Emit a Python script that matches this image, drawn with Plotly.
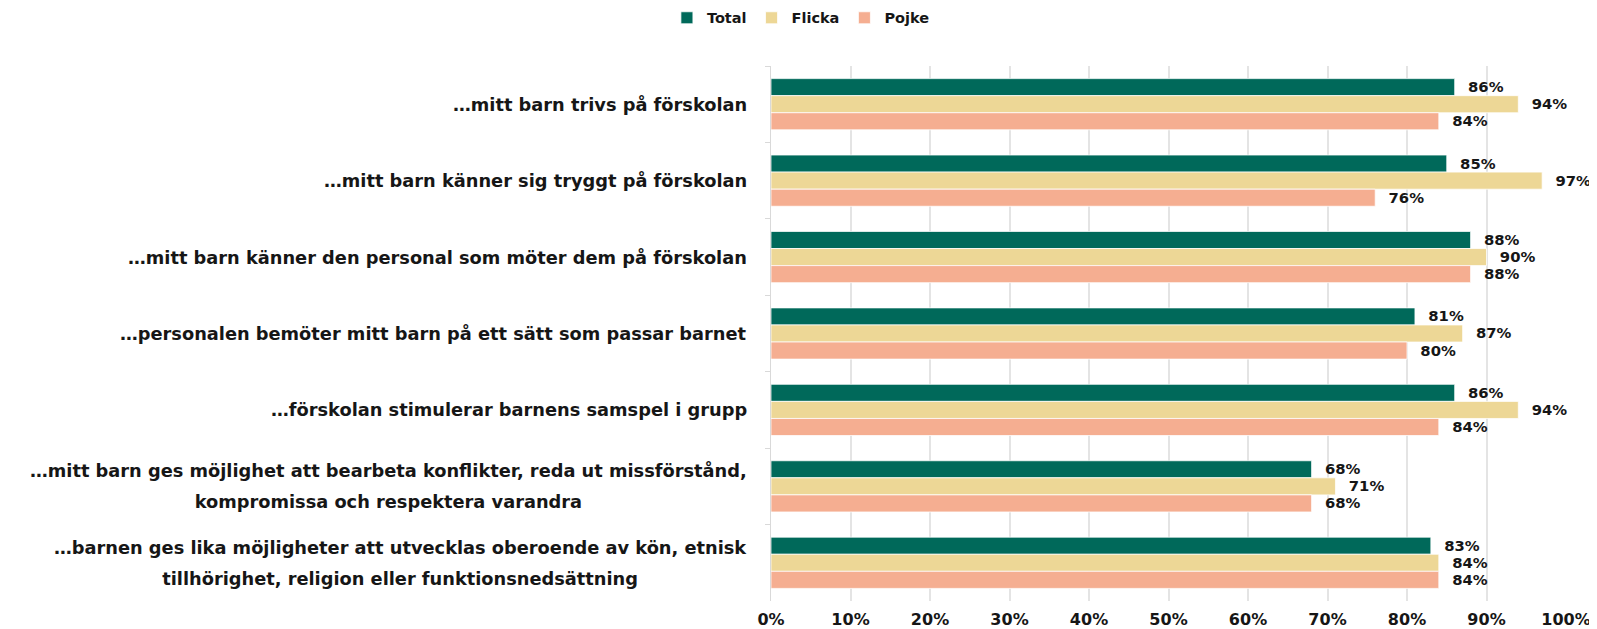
import plotly.graph_objects as go

categories = [
    "…mitt barn trivs på förskolan",
    "…mitt barn känner sig tryggt på förskolan",
    "…mitt barn känner den personal som möter dem på förskolan",
    "…personalen bemöter mitt barn på ett sätt som passar barnet",
    "…förskolan stimulerar barnens samspel i grupp",
    "…mitt barn ges möjlighet att bearbeta konflikter, reda ut missförstånd,<br>kompromissa och respektera varandra",
    "…barnen ges lika möjligheter att utvecklas oberoende av kön, etnisk<br>tillhörighet, religion eller funktionsnedsättning",
]
total = [0.86, 0.85, 0.88, 0.81, 0.86, 0.68, 0.83]
flicka = [0.94, 0.97, 0.90, 0.87, 0.94, 0.71, 0.84]
pojke = [0.84, 0.76, 0.88, 0.80, 0.84, 0.68, 0.84]
series = [("Total", total, "#00695A"), ("Flicka", flicka, "#EDD796"), ("Pojke", pojke, "#F5AE91")]

FONT = "DejaVu Sans"
TXT = "#161616"
fig = go.Figure()
for name, vals, color in series:
    fig.add_trace(go.Bar(
        y=categories, x=vals, name=name, orientation="h",
        marker=dict(color=color, line=dict(color="white", width=0.75)),
        text=[f"\u00a0\u00a0{round(v*100)}%" for v in vals], textposition="outside",
        textfont=dict(family=FONT, size=16.5, color=TXT, weight="bold"),
        cliponaxis=False,
    ))

for c in categories:
    fig.add_annotation(
        x=0, xref="paper", y=c, yref="y", xanchor="right", xshift=-22,
        text=f"<span style='font-size:17.8px'>{c}</span>", showarrow=False, align="center",
        font=dict(family=FONT, size=23.5, color=TXT, weight="bold"),
    )

fig.update_layout(
    width=1589, height=621,
    margin=dict(l=763, r=31, t=58, b=28, autoexpand=False),
    paper_bgcolor="white", plot_bgcolor="white",
    barmode="group", bargap=0.33, bargroupgap=0,
    legend=dict(orientation="h", xref="container", x=0.499, xanchor="center",
                yref="paper", y=1.09, yanchor="middle",
                font=dict(family=FONT, size=14.5, color=TXT, weight="bold")),
    xaxis=dict(range=[0, 1.0], tickformat=".0%", dtick=0.1, showgrid=True,
               gridcolor="#e4e4e4", gridwidth=2, zeroline=False,
               tickfont=dict(family=FONT, size=16, color=TXT, weight="bold"),
               ticks="", ticklabelstandoff=7),
    yaxis=dict(autorange="reversed", showticklabels=False, showline=True,
               linecolor="#d9d9d9", linewidth=1, ticks="outside", tickson="boundaries",
               ticklen=5, tickcolor="#d9d9d9", showgrid=False),
    font=dict(family=FONT),
)
fig.write_html("out.html")
